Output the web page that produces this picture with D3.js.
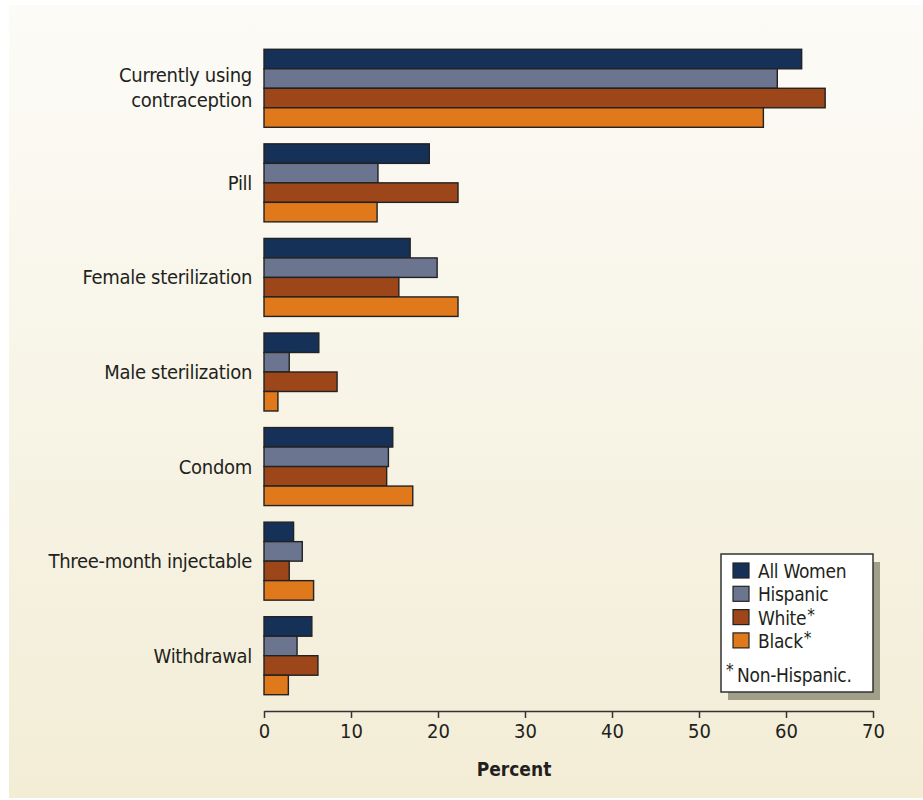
<!DOCTYPE html>
<html lang="en">
<head>
<meta charset="utf-8">
<title>Contraceptive use by race/ethnicity</title>
<script src="https://d3js.org/d3.v7.min.js"></script>
<style>
  body { margin: 0; background: #fff; }
  svg { display: block; }
  text { font-family: "DejaVu Sans Condensed", "Liberation Sans Narrow", sans-serif; fill: #231f20; }
</style>
</head>
<body>
<svg width="923" height="800"></svg>
<script>
const categories = ["Currently using contraception", "Pill", "Female sterilization",
  "Male sterilization", "Condom", "Three-month injectable", "Withdrawal"];
const seriesNames = ["All Women", "Hispanic", "White", "Black"];
const allWomen = [61.8, 19.0, 16.8, 6.3, 14.8, 3.4, 5.5];
const hispanic = [59.0, 13.1, 19.9, 2.9, 14.3, 4.4, 3.8];
const white    = [64.5, 22.3, 15.5, 8.4, 14.1, 2.9, 6.2];
const black    = [57.4, 13.0, 22.3, 1.6, 17.1, 5.7, 2.8];
const xTicks = [0, 10, 20, 30, 40, 50, 60, 70];

const colors = ["#163158", "#6b7590", "#9c4619", "#e0781c"];
const seriesValues = [allWomen, hispanic, white, black];

const svg = d3.select("svg");

// background panel with soft vertical gradient
const defs = svg.append("defs");
const grad = defs.append("linearGradient")
    .attr("id", "bg").attr("x1", 0).attr("y1", 0).attr("x2", 0).attr("y2", 1);
grad.append("stop").attr("offset", "0%").attr("stop-color", "#fcfbf7");
grad.append("stop").attr("offset", "100%").attr("stop-color", "#f3edd6");
svg.append("rect")
    .attr("x", 9).attr("y", 5).attr("width", 914).attr("height", 793)
    .attr("fill", "url(#bg)");

const x = d3.scaleLinear().domain([0, 70]).range([264, 873]);
const y = d3.scaleBand().domain(categories).range([41, 703]);
const ySub = d3.scaleBand().domain(seriesNames)
    .range([y.bandwidth() / 2 - 39, y.bandwidth() / 2 + 39]);

const rows = categories.map((c, i) => ({
  cat: c,
  vals: seriesNames.map((s, j) => ({ s: s, v: seriesValues[j][i], color: colors[j] }))
}));

const groups = svg.selectAll("g.cat")
  .data(rows)
  .join("g")
  .attr("class", "cat")
  .attr("transform", d => "translate(0," + y(d.cat) + ")");

groups.selectAll("rect")
  .data(d => d.vals)
  .join("rect")
  .attr("x", x(0))
  .attr("y", d => ySub(d.s))
  .attr("width", d => x(d.v) - x(0))
  .attr("height", ySub.bandwidth())
  .attr("fill", d => d.color)
  .attr("stroke", "#222")
  .attr("stroke-width", 1.4);

// category labels
groups.each(function (d) {
  const g = d3.select(this);
  const mid = y.bandwidth() / 2;
  const lines = d.cat === "Currently using contraception"
    ? [["Currently using", -6], ["contraception", 19]]
    : [[d.cat, 7]];
  lines.forEach(l => {
    g.append("text").attr("x", 252).attr("y", mid + l[1]).attr("text-anchor", "end")
      .attr("font-size", 20).attr("letter-spacing", -0.3).text(l[0]);
  });
});

// x axis
const axis = svg.append("g")
  .attr("transform", "translate(0,711)")
  .call(d3.axisBottom(x).tickValues(xTicks).tickSize(7).tickSizeOuter(0).tickPadding(6));
axis.select(".domain").attr("stroke", "#333").attr("stroke-width", 1.5);
axis.selectAll(".tick line").attr("stroke", "#333").attr("stroke-width", 1.5);
axis.selectAll(".tick text")
  .attr("font-size", 20)
  .attr("font-family", "'DejaVu Sans Condensed', sans-serif")
  .attr("fill", "#231f20");

svg.append("text")
  .attr("x", 514).attr("y", 776)
  .attr("text-anchor", "middle")
  .attr("font-size", 19).attr("font-weight", "bold")
  .text("Percent");

// legend
const legend = svg.append("g").attr("transform", "translate(721,554)");
legend.append("rect").attr("x", 7).attr("y", 8).attr("width", 152).attr("height", 138)
  .attr("fill", "#a19f88");
legend.append("rect").attr("x", 0).attr("y", 0).attr("width", 152).attr("height", 138)
  .attr("fill", "#fff").attr("stroke", "#333").attr("stroke-width", 1.5);

const items = legend.selectAll("g.item")
  .data(seriesNames)
  .join("g")
  .attr("class", "item")
  .attr("transform", (d, i) => "translate(12," + (9 + i * 23.3) + ")");
items.append("rect").attr("width", 16).attr("height", 15)
  .attr("fill", (d, i) => colors[i]).attr("stroke", "#222").attr("stroke-width", 1.2);
items.append("text").attr("x", 25).attr("y", 15).attr("font-size", 19)
  .attr("letter-spacing", -0.3).text(d => d);
// superscript asterisks for the non-Hispanic groups, placed right after the name
items.filter(d => d === "White" || d === "Black")
  .each(function () {
    const g = d3.select(this);
    const w = g.select("text").node().getComputedTextLength();
    g.append("text").attr("x", 25 + w + 1).attr("y", 11).attr("font-size", 17).text("*");
  });

legend.append("text").attr("x", 5).attr("y", 122).attr("font-size", 17).text("*");
legend.append("text").attr("x", 16).attr("y", 128).attr("font-size", 19)
  .attr("letter-spacing", -0.3).text("Non-Hispanic.");
</script>
</body>
</html>
